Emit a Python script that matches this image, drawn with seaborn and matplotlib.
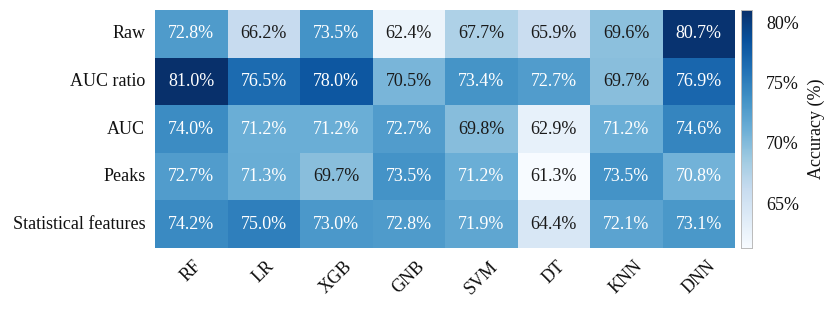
import matplotlib
matplotlib.use("Agg")
import matplotlib.pyplot as plt
import seaborn as sns
import numpy as np
import pandas as pd
from matplotlib.ticker import FuncFormatter

rows = ["Raw", "AUC ratio", "AUC", "Peaks", "Statistical features"]
cols = ["RF", "LR", "XGB", "GNB", "SVM", "DT", "KNN", "DNN"]
raw = [72.8, 66.2, 73.5, 62.4, 67.7, 65.9, 69.6, 80.7]
auc_ratio = [81.0, 76.5, 78.0, 70.5, 73.4, 72.7, 69.7, 76.9]
auc = [74.0, 71.2, 71.2, 72.7, 69.8, 62.9, 71.2, 74.6]
peaks = [72.7, 71.3, 69.7, 73.5, 71.2, 61.3, 73.5, 70.8]
stat = [74.2, 75.0, 73.0, 72.8, 71.9, 64.4, 72.1, 73.1]

df = pd.DataFrame([raw, auc_ratio, auc, peaks, stat], index=rows, columns=cols)

sns.set_theme(style="white")
plt.rcParams['font.family'] = ['Liberation Serif', 'DejaVu Serif']
plt.rcParams['text.color'] = '#111111'
plt.rcParams['axes.labelcolor'] = '#111111'
plt.rcParams['xtick.labelcolor'] = '#111111'
plt.rcParams['ytick.labelcolor'] = '#111111'

fs = 13
fig = plt.figure(figsize=(8.3, 3.1), dpi=100)
ax = fig.add_axes([155/830, 1-248/310, 580/830, 238/310])
cax = fig.add_axes([741/830, 1-248/310, 11/830, 238/310])

sns.heatmap(df, ax=ax, cbar_ax=cax, cmap="Blues", annot=True, fmt=".1f",
            annot_kws={"fontsize": fs}, cbar_kws={"label": "Accuracy (%)"})
for t in ax.texts:
    t.set_text(t.get_text() + "%")
    r, g, b, _ = matplotlib.colors.to_rgba(t.get_color())
    if r < 0.5:
        t.set_color('#1a1a1a')

ax.set_xticklabels(cols, rotation=45, fontsize=fs)
ax.set_yticklabels(rows, rotation=0, fontsize=fs)
ax.tick_params(axis='both', length=3, width=0.6, color='#cccccc', pad=4)

cax.yaxis.set_major_formatter(FuncFormatter(lambda v, p: f"{v:.0f}%"))
cax.set_yticks([65, 70, 75, 80])
cax.tick_params(labelsize=fs, length=0, pad=10)
cax.yaxis.label.set_size(fs)
cax.yaxis.labelpad = 6
for s in cax.spines.values():
    s.set_visible(True)
    s.set_color('#bbbbbb')
    s.set_linewidth(0.6)

fig.savefig("out.png", dpi=100)
